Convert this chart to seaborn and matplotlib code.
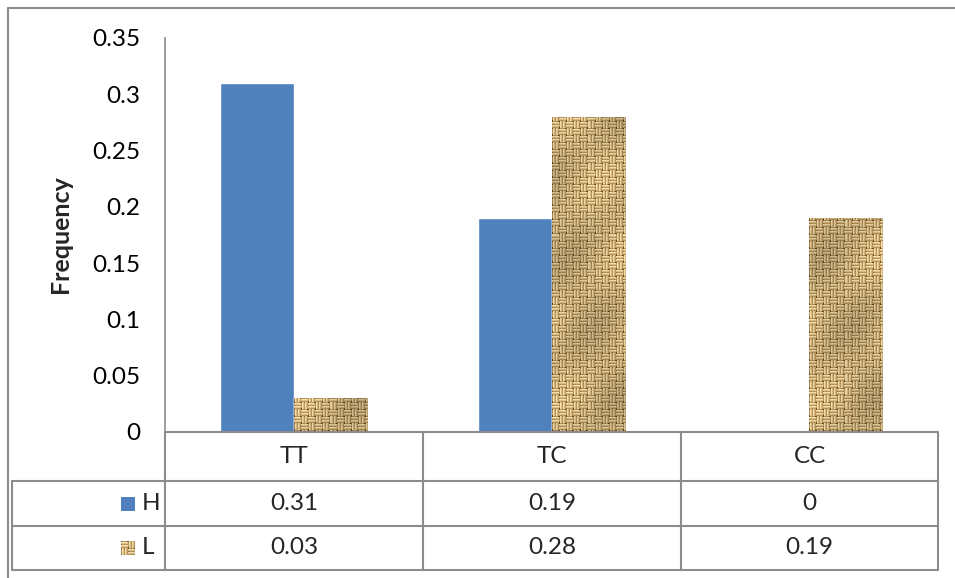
import numpy as np
import pandas as pd
import matplotlib
matplotlib.use("Agg")
import matplotlib.pyplot as plt
import seaborn as sns
from matplotlib.lines import Line2D
from matplotlib.patches import Rectangle

# Genotype frequencies for the two groups
categories = ["TT", "TC", "CC"]
series_names = ["H", "L"]
h_values = [0.31, 0.19, 0.0]
l_values = [0.03, 0.28, 0.19]
table_labels = {"H": ["0.31", "0.19", "0"], "L": ["0.03", "0.28", "0.19"]}
y_ticks = [0, 0.05, 0.1, 0.15, 0.2, 0.25, 0.3, 0.35]
y_tick_labels = ["0", "0.05", "0.1", "0.15", "0.2", "0.25", "0.3", "0.35"]

BLUE = "#4F81BD"
TAN = "#C4A46A"
GRID = "#8C8C8C"

df = pd.DataFrame({
    "genotype": categories * 2,
    "group": ["H"] * 3 + ["L"] * 3,
    "freq": h_values + l_values,
})

sns.set_theme(style="white")
plt.rcParams["font.family"] = ["Lato", "DejaVu Sans"]

W, H = 955, 578
fig = plt.figure(figsize=(W / 100, H / 100), dpi=100)


def fx(px):
    return px / W


def fy(py):
    return 1 - py / H


ax_l, ax_r, ax_t, ax_b = 165, 938, 38, 432
ax = fig.add_axes([fx(ax_l), fy(ax_b), fx(ax_r) - fx(ax_l), fy(ax_t) - fy(ax_b)])

sns.barplot(data=df, x="genotype", y="freq", hue="group", order=categories,
            hue_order=series_names, palette={"H": BLUE, "L": TAN},
            width=0.57, gap=0, saturation=1, ax=ax, legend=False)

font_sz = 17.5
ax.set_xlim(-0.5, len(categories) - 0.5)
ax.set_ylim(0, 0.35)
ax.set_yticks(y_ticks)
ax.set_yticklabels(y_tick_labels, fontsize=font_sz, color="black")
ax.tick_params(axis="y", length=0, pad=18)
ax.set_xticks([])
ax.set_xlabel("")
ax.set_ylabel("")
for side in ["top", "right", "bottom"]:
    ax.spines[side].set_visible(False)
ax.spines["left"].set_color(GRID)
ax.spines["left"].set_linewidth(1.2)

fig.text(fx(60), fy(234), "Frequency", rotation=90, ha="center", va="center",
         fontsize=18, fontweight="bold")


# Woven burlap texture for the L bars (one texel per screen pixel)
def weave_texture(rows, cols, cell=7):
    yy, xx = np.mgrid[0:rows, 0:cols]
    ci, cj = yy // cell, xx // cell
    ri, rj = yy % cell, xx % cell
    horiz = ((ci + cj) % 2 == 0)
    along = np.where(horiz, ri, rj)
    across = np.where(horiz, rj, ri)
    base = np.array([0.74, 0.59, 0.35])
    light = np.array([0.97, 0.89, 0.69])
    dark = np.array([0.42, 0.30, 0.14])
    img = np.empty((rows, cols, 3))
    img[:] = base
    img[(along == 1) | (along == 4)] = light
    img[(along == 2) | (along == 5)] = 0.55 * light + 0.45 * base
    img[(along == 0) & ((across == 0) | (across == 6))] = dark
    img[(along == 3) & (across == 0)] = 0.5 * base + 0.5 * dark
    # gentle shading so the cloth is not perfectly uniform
    shade = 0.9 + 0.1 * np.cos(yy / 23.0) * np.cos(xx / 17.0 + yy / 41.0)
    return np.clip(img * shade[..., None], 0, 1)


px_per_x = (ax_r - ax_l) / 3.0
axis_h_px = ax_b - ax_t
l_bars = ax.containers[1]
for bar in l_bars:
    bx, bw, bh = bar.get_x(), bar.get_width(), bar.get_height()
    if bh <= 0:
        continue
    tex = weave_texture(int(round(axis_h_px)), int(round(bw * px_per_x)))
    im = ax.imshow(tex, extent=[bx, bx + bw, 0, 0.35], aspect="auto",
                   interpolation="nearest", zorder=bar.get_zorder() + 0.1)
    im.set_clip_path(bar)

# Data table beneath the plot
lw = 1.5
rows = [432, 481, 526, 570]
col_edges = [165, 423, 681, 938]
legend_left = 12


def hline(y, x0, x1):
    fig.add_artist(Line2D([fx(x0), fx(x1)], [fy(y), fy(y)], color=GRID, lw=lw))


def vline(x, y0, y1):
    fig.add_artist(Line2D([fx(x), fx(x)], [fy(y0), fy(y1)], color=GRID, lw=lw))


hline(rows[0], col_edges[0], col_edges[-1])
for y in rows[1:]:
    hline(y, legend_left, col_edges[-1])
for x in col_edges:
    vline(x, rows[0], rows[-1])
vline(legend_left, rows[1], rows[-1])

for i, cat in enumerate(categories):
    cx = (col_edges[i] + col_edges[i + 1]) / 2
    fig.text(fx(cx), fy((rows[0] + rows[1]) / 2), cat, ha="center", va="center",
             fontsize=font_sz)
    for r, name in enumerate(series_names):
        cy = (rows[r + 1] + rows[r + 2]) / 2
        fig.text(fx(cx), fy(cy), table_labels[name][i], ha="center", va="center",
                 fontsize=font_sz)

# Legend keys inside the table
key_tex = weave_texture(14, 14)
for r, name in enumerate(series_names):
    cy = (rows[r + 1] + rows[r + 2]) / 2
    key_ax = fig.add_axes([fx(121), fy(cy + 7), fx(14), 14 / H])
    key_ax.set_axis_off()
    if name == "H":
        key_ax.add_patch(Rectangle((0, 0), 1, 1, color=BLUE))
        key_ax.set_xlim(0, 1)
        key_ax.set_ylim(0, 1)
    else:
        key_ax.imshow(key_tex, extent=[0, 1, 0, 1], aspect="auto",
                      interpolation="nearest")
    fig.text(fx(142), fy(cy), name, ha="left", va="center", fontsize=font_sz)

# Chart area border
hline(8, 8, W + 5)
vline(8, 8, H + 5)

fig.savefig("out.png", dpi=100, facecolor="white")
